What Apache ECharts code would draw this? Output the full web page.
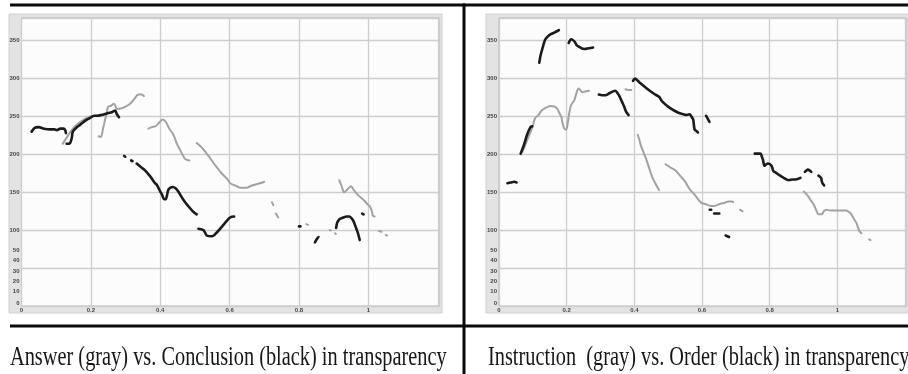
<!DOCTYPE html>
<html><head><meta charset="utf-8">
<script src="https://cdn.jsdelivr.net/npm/echarts@6/dist/echarts.min.js"></script>
<style>html,body{margin:0;padding:0;background:#fff}#c{width:908px;height:374px}</style>
</head><body><div id="c"></div><script>
// ---- Tick labels ----
const yTickValues = [3, 19, 32, 46, 60, 74, 100, 150, 200, 250, 300, 350];
const yTickLabels = ['0', '10', '20', '30', '40', '50', '100', '150', '200', '250', '300', '350'];
const xTickLabels = ['0', '0.2', '0.4', '0.6', '0.8', '1', ''];
const captions = ['Answer (gray) vs. Conclusion (black) in transparency', 'Instruction  (gray) vs. Order (black) in transparency'];

// ---- Panel 1: Answer (gray) ----
const answerGray = [
  [[0.119,214],[0.130,222],[0.140,229],[0.152,236],[0.164,241],[0.180,246],[0.198,250],[0.210,251]],
  [[0.222,224],[0.229,223],[0.235,234],[0.241,246],[0.246,256],[0.250,263],[0.258,264],[0.266,267],[0.270,265],[0.275,260],[0.289,261],[0.300,263],[0.313,267],[0.325,273],[0.337,279],[0.347,279],[0.353,277]],
  [[0.366,234],[0.376,236],[0.386,237],[0.395,241],[0.407,246],[0.416,243],[0.425,235],[0.438,226],[0.448,214],[0.457,206],[0.465,199],[0.472,194],[0.484,192]],
  [[0.505,215],[0.520,209],[0.539,198],[0.553,189],[0.563,183],[0.573,177],[0.592,168],[0.602,162],[0.621,158],[0.630,156],[0.650,156],[0.659,158],[0.672,160],[0.688,162],[0.700,164]],
  [[0.722,137],[0.726,133]],
  [[0.733,122],[0.740,117]],
  [[0.821,108],[0.826,107]],
  [[0.888,100],[0.892,100]],
  [[0.900,89],[0.902,89]],
  [[0.904,96],[0.906,95]],
  [[0.916,166],[0.923,158],[0.930,150],[0.940,154],[0.950,158],[0.958,153],[0.967,148],[0.976,144],[0.986,140],[0.996,135],[1.005,131],[1.010,125],[1.013,119],[1.018,118]],
  [[1.030,99],[1.038,98]],
  [[1.050,94],[1.054,93]]
];
// ---- Panel 1: Conclusion (black) ----
const conclusionBlack = [
  [[0.029,230],[0.038,235],[0.049,236],[0.065,234],[0.082,233],[0.095,233],[0.102,232],[0.112,234],[0.121,234],[0.126,232],[0.128,228]],
  [[0.130,214],[0.140,215],[0.145,222],[0.148,230],[0.160,236],[0.169,239],[0.185,245],[0.197,248],[0.210,251],[0.217,251],[0.230,252],[0.246,254],[0.262,256],[0.270,258],[0.275,253],[0.281,249]],
  [[0.296,198],[0.299,197]],
  [[0.316,192],[0.320,191]],
  [[0.332,188],[0.345,183],[0.356,179],[0.371,171],[0.385,162],[0.390,160],[0.400,151],[0.405,147],[0.411,141],[0.416,141],[0.419,145],[0.424,154],[0.436,157],[0.445,155],[0.452,151],[0.467,140],[0.486,129],[0.496,124],[0.505,121]],
  [[0.510,102],[0.525,100],[0.534,93],[0.549,92],[0.563,97],[0.582,107],[0.595,114],[0.602,117],[0.613,118]],
  [[0.800,105],[0.804,105]],
  [[0.846,84],[0.851,88],[0.856,91]],
  [[0.907,103],[0.909,108],[0.911,111],[0.918,115],[0.924,116],[0.938,118],[0.945,118],[0.951,116],[0.957,112],[0.962,106],[0.966,101],[0.970,96],[0.975,87]],
  [[0.982,122],[0.986,121]]
];
// ---- Panel 2: Instruction (gray) ----
const instructionGray = [
  [[0.069,203],[0.078,213],[0.088,224],[0.098,235],[0.107,248],[0.117,252],[0.126,258],[0.136,261],[0.146,263],[0.151,264],[0.165,263],[0.174,259],[0.179,254],[0.184,250],[0.187,243],[0.192,235],[0.196,233],[0.199,233],[0.202,238],[0.206,250],[0.210,260],[0.213,265],[0.223,272],[0.227,278],[0.235,287],[0.240,285],[0.247,282],[0.255,283],[0.266,284]],
  [[0.374,286],[0.382,285],[0.391,285]],
  [[0.410,226],[0.415,219],[0.420,211],[0.434,195],[0.449,175],[0.454,169],[0.463,161],[0.473,153]],
  [[0.492,187],[0.506,183],[0.521,179],[0.535,172],[0.550,164],[0.564,154],[0.578,147],[0.590,140],[0.598,136],[0.607,135],[0.627,132],[0.636,132],[0.655,135],[0.665,136],[0.679,138],[0.689,138],[0.692,137]],
  [[0.712,127],[0.720,125]],
  [[0.901,151],[0.908,148],[0.915,144],[0.922,139],[0.930,134],[0.939,125],[0.944,121],[0.954,121],[0.960,125],[0.968,127],[0.980,126],[0.992,126],[1.011,126],[1.026,126],[1.031,125],[1.040,122],[1.050,114],[1.057,109],[1.064,100],[1.071,96]],
  [[1.094,88],[1.098,87]]
];
// ---- Panel 2: Order (black) ----
const orderBlack = [
  [[0.025,162],[0.035,163],[0.045,164],[0.052,163]],
  [[0.064,201],[0.069,207],[0.074,213],[0.083,226],[0.093,236],[0.098,237]],
  [[0.119,321],[0.122,329],[0.126,336],[0.131,344],[0.136,351],[0.143,355],[0.151,358],[0.165,361],[0.177,364]],
  [[0.206,347],[0.213,352],[0.218,351],[0.223,349],[0.230,344],[0.237,342],[0.252,339],[0.266,340],[0.278,341]],
  [[0.295,279],[0.305,278],[0.314,278],[0.328,281],[0.343,284],[0.350,281],[0.357,276],[0.364,269],[0.370,263],[0.376,256],[0.383,252]],
  [[0.396,297],[0.402,300],[0.415,295],[0.434,288],[0.458,280],[0.473,276],[0.482,270],[0.506,261],[0.530,255],[0.545,253],[0.555,252],[0.564,253],[0.570,249],[0.574,246],[0.578,233],[0.583,231],[0.588,229]],
  [[0.612,251],[0.616,248],[0.622,243]],
  [[0.623,127],[0.627,127]],
  [[0.636,122],[0.651,122]],
  [[0.670,93],[0.680,91]],
  [[0.756,201],[0.765,201],[0.773,201],[0.777,197],[0.780,193],[0.785,185],[0.790,187],[0.795,188],[0.804,186],[0.808,182],[0.811,178],[0.818,176],[0.824,174],[0.838,170],[0.857,166],[0.867,167],[0.877,167],[0.891,169]],
  [[0.904,177],[0.909,179],[0.913,180],[0.918,179],[0.923,177]],
  [[0.944,172],[0.952,169],[0.954,165],[0.956,162],[0.961,159]]
];

const GRAY = '#a2a2a2', BLACK = '#1b1b1b';
const panels = [
  {left: 21.5, gray: answerGray, black: conclusionBlack, chromeX: 9, chromeW: 433, capX: 10},
  {left: 499, gray: instructionGray, black: orderBlack, chromeX: 486, chromeW: 430, capX: 488}
];

const labelFont = {fontFamily: '"Liberation Sans", Arial, sans-serif', fontSize: 6, fontWeight: 'bold', color: '#454545'};
const grids = [], xAxes = [], yAxes = [], series = [], graphics = [];

panels.forEach((p, i) => {
  grids.push({left: p.left, top: 18, width: 418, height: 288, show: true, backgroundColor: '#fcfcfc', borderColor: '#b4b4b4', borderWidth: 1, containLabel: false});
  xAxes.push({type: 'value', gridIndex: i, min: 0, max: 1.205, interval: 0.2,
    axisLine: {show: false}, axisTick: {show: false},
    splitLine: {show: true, lineStyle: {color: '#cdcdcd', width: 1.3}},
    axisLabel: Object.assign({margin: 1, showMaxLabel: false, formatter: v => xTickLabels[Math.round(v / 0.2)] || ''}, labelFont)});
  yAxes.push({type: 'value', gridIndex: i, min: 0, max: 380, interval: 1,
    axisLine: {show: false}, axisTick: {show: false}, splitLine: {show: false},
    axisLabel: Object.assign({margin: 2, showMinLabel: true, showMaxLabel: false, formatter: v => {
      const k = yTickValues.indexOf(Math.round(v)); return k >= 0 ? yTickLabels[k] : ''; }}, labelFont)});
  yAxes.push({type: 'value', gridIndex: i, min: 0, max: 380, interval: 50,
    axisLine: {show: false}, axisTick: {show: false}, axisLabel: {show: false},
    splitLine: {show: true, lineStyle: {color: '#cdcdcd', width: 1.3}}});
  const yi = i * 2;
  p.gray.forEach(seg => series.push({type: 'line', xAxisIndex: i, yAxisIndex: yi, data: seg, showSymbol: false, symbol: 'none', smooth: 0.3, silent: true, z: 3,
    lineStyle: {color: GRAY, width: 2, cap: 'round', join: 'round'}}));
  p.black.forEach(seg => series.push({type: 'line', xAxisIndex: i, yAxisIndex: yi, data: seg, showSymbol: false, symbol: 'none', smooth: 0.3, silent: true, z: 4,
    lineStyle: {color: BLACK, width: 2.6, cap: 'round', join: 'round'}}));
  graphics.push({type: 'rect', z: -10, shape: {x: p.chromeX, y: 14, width: p.chromeW, height: 299}, style: {fill: '#e3e3e3', stroke: '#d0d0d0', lineWidth: 1}});
});

// caption sizing
const cv = document.createElement('canvas').getContext('2d');
const capFont = '28px "Liberation Serif", "Times New Roman", serif';
cv.font = capFont;
const sx = 436.7 / cv.measureText(captions[0]).width;
panels.forEach((p, i) => {
  graphics.push({type: 'text', x: p.capX, y: 357.5, scaleX: sx, scaleY: 1, z: 10,
    style: {text: captions[i], font: capFont, fill: '#161616', verticalAlign: 'middle', align: 'left'}});
});
// separator rules
graphics.push({type: 'rect', z: 10, shape: {x: 10, y: 3.5, width: 898, height: 3}, style: {fill: '#0a0a0a'}});
graphics.push({type: 'rect', z: 10, shape: {x: 10, y: 324.5, width: 898, height: 3}, style: {fill: '#0a0a0a'}});
graphics.push({type: 'rect', z: 10, shape: {x: 462.5, y: 3.5, width: 3, height: 371}, style: {fill: '#0a0a0a'}});

const chart = echarts.init(document.getElementById('c'), null, {renderer: 'canvas'});
chart.setOption({animation: false, backgroundColor: '#ffffff', grid: grids, xAxis: xAxes, yAxis: yAxes, series: series, graphic: graphics});
</script></body></html>
